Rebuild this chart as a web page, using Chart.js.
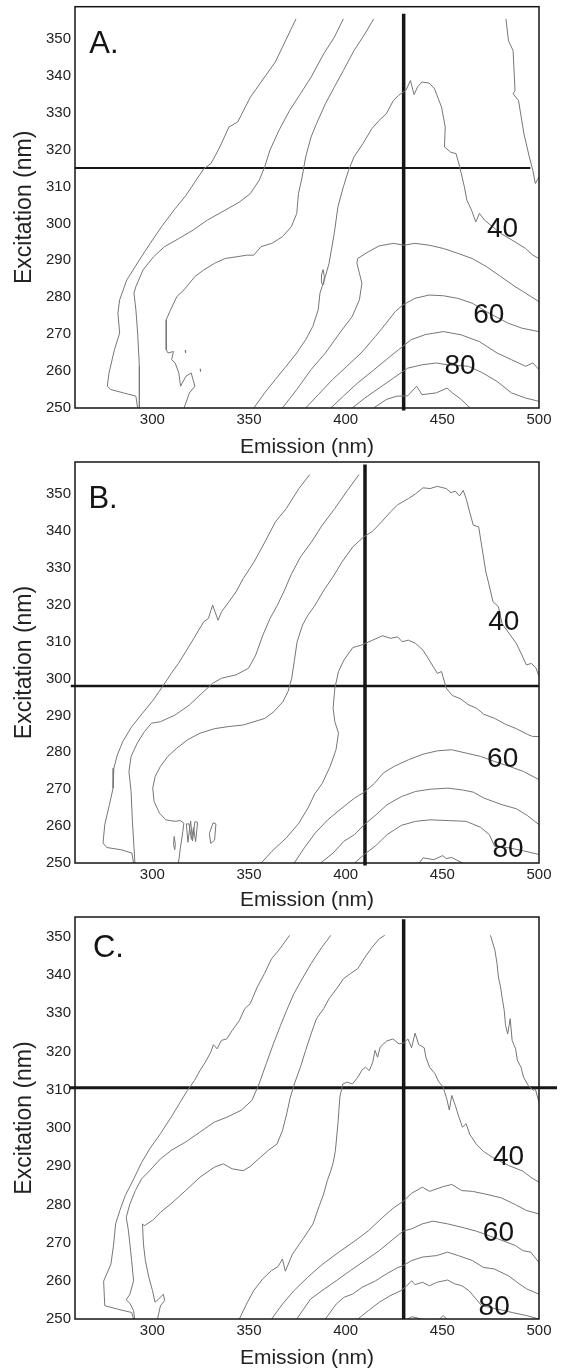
<!DOCTYPE html>
<html>
<head>
<meta charset="utf-8">
<script src="https://cdn.jsdelivr.net/npm/chart.js@4.4.1/dist/chart.umd.min.js"></script>
<style>
  body { margin: 0; background: #fff; }
  .panel { position: absolute; left: 0; width: 561px; }
</style>
</head>
<body>
<div class="panel" style="top:0;height:458px"><canvas id="chartA"></canvas></div>
<div class="panel" style="top:458px;height:454px"><canvas id="chartB"></canvas></div>
<div class="panel" style="top:912px;height:456px"><canvas id="chartC"></canvas></div>
<script>
// Eixos
const xTicks = [300, 350, 400, 450, 500];
const yTicks = [250, 260, 270, 280, 290, 300, 310, 320, 330, 340, 350];
const levelLabels = ['40', '60', '80'];

// Painel A - contornos [emissao, excitacao]
const a10 = [[374.3,355.4],[363.6,343.7],[350.7,334.2],[344.2,327.5],[339.6,326.1],[334.9,320.7],[332.2,318.0],[330.3,316.2],[326.6,314.8],[322.0,311.2],[317.4,307.6],[311.8,304.0],[305.3,299.5],[298.9,294.6],[293.3,290.1],[286.8,284.7],[283.1,279.3],[282.2,275.7],[283.1,270.3],[280.4,265.8],[277.6,259.5],[276.7,255.9],[278.5,255.0],[285.0,254.1],[291.5,253.2],[292.4,250]];
const a20 = [[398.8,355.4],[394.1,350.4],[388.6,345.9],[382.1,339.6],[376.6,335.1],[371.0,330.6],[365.5,325.2],[360.8,319.8],[358.1,315.3],[355.3,311.7],[350.7,308.1],[345.1,305.8],[337.7,303.6],[328.5,300.9],[321.1,298.2],[313.7,295.9],[306.3,293.7],[300.7,291.0],[295.2,287.4],[291.5,282.9],[290.5,281.1],[291.5,276.6],[292.4,270.3],[293.3,261.3],[293.3,250]];
const a30 = [[414.5,355.4],[409.9,351.3],[404.3,346.8],[398.8,341.4],[394.1,336.9],[389.5,332.4],[384.9,327.0],[382.1,323.4],[379.3,318.0],[377.5,312.6],[375.6,308.1],[374.7,302.7],[371.9,299.1],[367.3,296.4],[361.8,294.6],[356.2,293.7],[352.5,291.4],[348.8,291.4],[344.2,291.0],[337.7,290.5],[332.2,289.2],[326.6,287.4],[322.0,285.6],[316.4,282.0],[312.7,280.2],[309.0,276.1],[307.2,273.9],[307.2,265.8],[308.1,264.9],[310.9,265.3],[310.0,263.1],[311.8,262.2],[313.7,259.5],[314.6,255.9],[317.4,258.6],[320.1,259.5],[322.0,255.9],[319.2,254.1],[316.4,250]];
const a30b = [[482.9,355.4],[484.2,349.5],[486.6,346.8],[487.6,336.0],[486.6,335.1],[489.4,333.3],[492.2,324.3],[495.0,318.0],[496.8,314.4],[498.1,310.8],[500,312.6]];
const a40 = [[352.5,250],[358.1,254.1],[363.6,257.7],[369.2,261.3],[374.7,264.9],[379.3,268.5],[383.0,272.1],[385.8,276.6],[386.7,281.1],[389.5,285.6],[391.4,289.2],[394.1,297.3],[396.0,304.5],[398.8,309.9],[401.5,314.4],[404.3,318.0],[408.9,321.6],[413.6,325.7],[417.3,327.9],[421.0,329.7],[424.7,333.3],[427.4,334.7],[431.1,336.0],[433.5,338.7],[435.4,334.9],[437.2,337.0],[439.5,338.3],[443.2,338.0],[445.9,336.5],[449.6,331.5],[451.5,326.1],[451.1,320.7],[454.3,319.3],[457.1,318.9],[459.0,315.3],[461.4,309.9],[462.7,306.3],[465.1,303.6],[467.3,300.4],[469.2,302.7],[471.8,300.9],[480.2,297.3],[487.6,295.0],[493.1,293.2],[496.8,291.4],[500,290.5]];
const a50 = [[367.3,250],[374.7,255.0],[382.1,260.4],[389.5,264.9],[396.9,270.3],[403.4,274.8],[407.1,279.3],[408.4,283.8],[407.1,286.5],[405.8,289.2],[406.2,290.5],[411.7,292.3],[417.3,293.9],[424.7,294.6],[430.2,294.1],[435.8,294.6],[443.2,294.1],[450.6,293.2],[458.0,291.9],[465.4,290.5],[472.8,288.3],[480.2,285.6],[487.6,282.9],[493.1,281.1],[500,278.8]];
const a60 = [[379.3,250],[385.8,253.6],[393.2,257.7],[400.6,261.3],[408.0,264.9],[415.4,269.4],[421.0,273.0],[425.6,276.1],[429.6,277.9],[435.8,279.7],[443.2,280.6],[450.6,280.4],[458.0,279.7],[465.4,278.4],[472.8,276.1],[483.9,273.0],[491.3,271.6],[500,270.7]];
const a70 = [[392.3,250],[398.8,253.2],[406.2,256.8],[413.6,259.9],[421.0,263.1],[427.4,265.8],[433.9,268.5],[441.3,269.9],[450.6,270.7],[459.8,269.8],[469.1,268.0],[478.3,264.9],[485.7,263.1],[493.1,261.3],[496.8,262.2],[500,260.4]];
const a80 = [[403.4,250],[409.9,252.7],[417.3,255.4],[424.7,258.1],[432.1,260.8],[439.5,261.7],[446.9,262.2],[452.4,261.7],[463.5,261.3],[470.9,259.5],[478.3,257.2],[485.7,254.1],[493.1,252.7],[500,251.8]];
const a90 = [[414.5,250],[421.0,252.3],[426.5,253.2],[432.1,253.3],[436.7,255.9],[439.5,253.6],[446.9,254.1],[452.4,255.4],[455.2,254.1],[459.8,252.3],[464.4,250]];
const aLoop = [[388.3,287.5],[389.0,285.6],[388.6,283.4],[387.7,283.8],[387.5,286.0],[388.3,287.5]];
const aDot1 = [[317.0,265.6],[317.2,264.9]];
const aDot2 = [[324.8,260.6],[324.9,259.9]];

// Painel B
const b10 = [[381.4,355.3],[375.8,351.5],[369.3,346.1],[363.7,342.5],[358.2,337.0],[352.6,331.6],[347.0,327.1],[343.3,323.5],[339.6,320.8],[335.8,318.1],[334.0,315.8],[331.2,319.9],[329.0,316.3],[326.6,315.4],[321.9,311.3],[317.3,307.3],[313.5,304.1],[309.8,301.4],[305.2,297.8],[300.5,294.2],[294.9,290.6],[289.4,287.0],[284.7,282.9],[281.9,279.3],[280.1,275.7],[279.7,270.3],[277.8,265.8],[275.4,260.4],[274.5,255.4],[276.4,254.2],[283.8,253.6],[289.4,252.7],[290.3,250]];
const b20 = [[406.9,355.3],[400.9,351.0],[394.4,346.1],[387.9,341.6],[382.3,337.0],[376.7,333.0],[372.1,328.5],[368.4,324.0],[364.7,319.9],[360.9,316.3],[357.2,311.8],[353.5,306.4],[349.8,302.8],[343.3,301.0],[335.8,300.1],[331.2,298.7],[325.6,296.0],[319.1,292.8],[311.7,290.1],[304.2,288.3],[299.6,287.9],[295.9,285.6],[292.2,282.5],[289.0,278.9],[287.9,274.8],[289.0,269.4],[289.7,261.3],[291.0,250]];
const b30 = [[313.5,250],[314.5,254.1],[315.8,258.6],[316.3,260.8],[314.5,261.5],[311.7,261.3],[307.0,261.7],[303.7,263.5],[300.9,266.7],[300.2,270.3],[301.5,273.5],[304.2,276.2],[308.0,278.9],[312.6,281.1],[318.2,283.4],[324.7,285.2],[332.1,286.4],[339.6,287.0],[347.0,287.4],[352.6,288.3],[358.2,289.2],[362.8,291.0],[367.5,293.7],[370.2,296.5],[372.1,300.1],[373.4,304.6],[374.9,310.0],[377.7,314.5],[380.5,317.2],[384.2,319.9],[388.8,324.0],[393.5,327.6],[398.1,331.6],[403.7,335.7],[409.3,338.4],[413.9,339.9],[418.6,342.5],[423.2,345.2],[426.9,347.1],[432.5,348.8],[436.2,350.1],[440.0,351.7],[443.7,351.5],[447.4,352.1],[452.0,351.5],[454.4,350.4],[456.7,350.8],[458.9,349.5],[460.8,351.0],[462.3,348.8],[464.1,345.2],[466.0,341.6],[468.8,341.1],[470.6,335.2],[472.5,328.9],[473.8,326.2],[476.2,320.8],[479.0,319.5],[480.9,314.9],[484.6,312.2],[488.3,309.5],[491.1,306.4],[493.5,303.7],[496.1,304.1],[498.5,302.8],[500,300.5]];
const bLoop1 = [[311.3,257.2],[311.9,255.0],[311.6,253.6],[311.0,255.0],[311.3,257.2]];
const bLoop2 = [[317.6,260.6],[318.4,255.6],[319.8,261.4],[320.8,256.0],[322.0,261.2],[323.4,261.0],[322.4,255.8],[321.3,259.6],[320.2,256.4],[319.0,260.6],[317.6,260.6]];
const bLoop3 = [[330.2,255.3],[329.5,258.0],[331.4,260.9],[332.9,260.6],[332.2,256.2],[330.2,255.3]];
const b40 = [[356.3,250],[361.9,253.2],[369.3,256.8],[375.8,260.8],[380.5,264.9],[384.2,268.9],[387.9,271.6],[392.0,276.2],[395.0,280.7],[396.3,285.2],[394.4,288.3],[393.5,291.9],[394.4,297.4],[396.3,301.9],[399.1,305.0],[403.7,308.4],[408.3,309.1],[413.9,310.4],[419.1,311.6],[423.2,310.9],[426.9,311.3],[429.2,310.0],[432.5,310.4],[436.2,309.5],[440.0,307.7],[443.7,304.6],[447.4,301.4],[449.6,301.9],[452.0,297.4],[455.2,295.4],[459.5,294.5],[463.2,293.0],[467.8,291.9],[471.5,290.3],[477.1,289.2],[482.7,287.6],[488.3,286.4],[493.9,284.9],[496.7,284.3],[500,284.3]];
const b50 = [[373.4,250],[378.6,254.1],[384.2,258.1],[390.7,261.7],[398.1,264.9],[404.6,267.6],[409.6,269.2],[414.9,271.6],[419.5,274.4],[425.1,276.2],[432.5,278.0],[440.0,279.5],[447.4,280.4],[454.8,280.7],[462.3,279.8],[469.7,278.9],[477.1,277.5],[484.6,276.2],[492.0,274.8],[500,272.6]];
const b70 = [[387.0,250],[393.5,252.7],[399.1,255.9],[404.6,257.7],[409.6,260.4],[415.8,263.1],[421.4,265.8],[428.8,268.0],[436.2,269.4],[443.7,270.0],[453.0,270.3],[460.4,269.8],[466.0,269.2],[471.5,267.6],[480.9,265.8],[488.3,264.7],[493.9,262.9],[500,260.4]];
const b80 = [[404.6,250],[409.6,252.3],[415.8,254.8],[421.4,257.7],[428.8,260.2],[436.2,261.3],[443.7,261.7],[453.0,261.5],[462.3,261.3],[469.7,259.7],[474.3,257.7],[477.1,254.5],[484.6,254.1],[492.0,253.3],[500,252.3]];
const b90 = [[438.1,250],[440.0,251.4],[445.6,250.9],[450.2,252.0],[452.0,251.2],[454.8,251.5],[460.4,250]];

// Painel C
const c10 = [[371.0,350.4],[365.4,346.5],[361.7,344.3],[358.0,340.4],[354.3,336.9],[350.6,332.5],[347.8,331.2],[345.0,328.1],[341.3,325.5],[338.5,323.3],[335.7,322.9],[333.5,320.7],[331.6,321.8],[330.2,319.8],[327.4,317.2],[324.6,315.0],[321.8,312.4],[318.1,309.8],[314.4,306.7],[309.7,302.8],[304.2,298.5],[298.6,294.5],[294.5,291.0],[290.8,287.1],[286.0,282.3],[283.2,278.4],[281.0,274.9],[280.0,269.6],[278.6,264.4],[276.0,261.3],[274.8,259.9],[275.4,253.5],[281.9,252.6],[289.3,251.7],[290.3,250]];
const c20 = [[392.3,350.4],[387.7,347.3],[382.1,343.0],[377.5,339.0],[373.2,335.1],[369.5,330.8],[366.3,326.8],[362.6,322.0],[358.9,316.8],[355.2,311.5],[351.5,307.2],[345.9,304.6],[338.5,302.8],[332.0,301.5],[324.6,298.9],[317.2,296.3],[309.7,294.1],[304.2,291.9],[298.6,288.8],[294.5,286.7],[291.2,283.6],[288.4,280.1],[286.5,276.6],[287.5,273.6],[288.4,269.6],[289.3,265.3],[290.3,260.0],[288.4,256.5],[286.5,255.0],[288.4,254.1],[290.3,252.2],[290.8,250]];
const c30 = [[420.2,350.4],[417.4,349.5],[413.7,347.3],[410.0,344.7],[406.3,341.7],[402.5,340.4],[398.8,339.0],[396.0,336.9],[391.4,333.8],[388.6,331.2],[384.9,328.6],[382.1,324.6],[379.3,320.3],[376.6,315.9],[373.8,312.0],[371.4,308.1],[369.5,303.7],[367.3,299.3],[364.5,295.8],[359.9,294.1],[354.3,291.6],[350.6,289.9],[346.9,288.8],[341.3,289.3],[336.7,290.6],[332.0,289.7],[324.6,287.1],[317.2,283.6],[310.7,280.6],[304.2,277.9],[300.1,275.8],[295.8,274.4],[294.9,274.9],[295.4,269.6],[296.4,265.3],[298.2,260.9],[300.1,257.4],[301.4,254.4],[303.2,255.2],[305.7,256.5],[306.4,254.8],[304.2,253.5],[302.7,250]];
const c30b = [[474.9,350.4],[477.2,346.5],[478.3,343.0],[479.0,339.5],[480.1,336.9],[480.9,334.2],[482.0,330.8],[482.7,326.8],[483.8,324.6],[485.1,328.6],[486.1,322.9],[487.9,320.7],[488.8,317.7],[490.7,315.9],[492.0,313.3],[494.4,311.1],[497.2,309.8],[498.1,310.2],[500,306.7]];
const c40 = [[345.0,250],[348.7,253.9],[352.4,257.4],[357.1,260.5],[361.7,262.7],[365.0,263.7],[367.3,265.7],[368.8,262.5],[372.5,267.0],[378.0,271.0],[383.1,274.9],[386.4,279.7],[388.6,282.7],[390.5,286.2],[392.3,288.8],[393.6,291.0],[394.7,294.1],[396.0,301.1],[397.0,308.1],[398.5,311.5],[400.7,312.0],[403.5,311.5],[406.3,313.3],[408.5,315.2],[410.3,315.9],[412.2,315.0],[414.0,317.2],[415.2,320.3],[416.5,318.5],[417.8,321.1],[421.1,322.7],[424.4,323.3],[427.6,322.0],[429.8,322.2],[432.2,323.3],[434.1,321.0],[435.9,324.8],[437.8,321.8],[440.6,321.0],[441.5,318.5],[443.4,315.9],[446.2,314.2],[448.0,312.2],[450.4,310.7],[452.3,307.6],[453.6,304.7],[454.9,308.5],[456.7,305.9],[458.6,302.8],[460.4,300.2],[462.3,301.1],[464.2,298.3],[467.5,295.8],[471.2,293.9],[475.9,292.3],[484.2,290.2],[491.6,288.7],[495.7,287.1],[500,285.8]];
const c50 = [[361.7,250],[367.3,253.9],[373.2,257.4],[380.3,260.9],[387.7,264.2],[397.0,267.7],[404.4,270.3],[411.8,273.1],[418.9,276.5],[424.8,279.1],[429.8,280.8],[434.1,282.9],[439.7,284.5],[443.4,283.4],[450.8,284.7],[454.9,285.2],[460.1,283.6],[465.6,283.4],[473.1,282.6],[480.5,281.7],[487.9,279.9],[493.5,278.4],[500,277.5]];
const c60 = [[374.7,250],[381.8,255.2],[387.7,257.4],[395.1,260.0],[402.5,262.7],[410.0,265.3],[417.4,267.9],[424.8,271.0],[429.8,273.0],[434.1,273.6],[439.7,274.9],[445.2,275.6],[452.7,274.9],[460.1,274.0],[467.5,273.0],[478.6,271.0],[487.9,269.2],[491.6,267.9],[495.7,267.5],[500,264.8]];
const c70 = [[389.5,250],[395.1,253.9],[399.2,255.7],[403.5,256.5],[408.5,258.3],[415.5,260.0],[421.1,261.8],[426.7,263.4],[429.8,264.0],[434.1,265.3],[439.7,266.2],[447.1,266.6],[452.7,267.5],[458.2,266.6],[465.6,265.3],[471.2,263.5],[476.8,263.1],[484.2,261.3],[489.8,259.2],[493.5,257.9],[500,256.5]];
const c80 = [[406.3,250],[411.8,252.2],[417.4,254.4],[423.0,256.1],[428.5,257.4],[431.3,258.5],[434.1,260.0],[435.9,259.0],[439.7,259.6],[443.4,258.7],[447.1,259.6],[452.7,260.2],[456.4,259.2],[460.1,258.7],[463.8,257.4],[467.5,255.2],[470.3,253.5],[478.6,252.6],[486.1,251.7],[493.5,250.9],[500,250]];
const c90a = [[432.2,250],[434.1,250.6],[436.9,250.3],[438.7,250]];
const c90b = [[448.6,250],[450.4,250.9],[452.3,250]];

// Linhas de corte (emissao, excitacao)
const crossA = { em: 430, emSpan: [249.3, 356.8], ex: 315, exSpan: [260, 495.5] };
const crossB = { em: 410, emSpan: [249.3, 358.0], ex: 298, exSpan: [257.8, 500] };
const crossC = { em: 430, emSpan: [250, 354.6], ex: 310.5, exSpan: [257.4, 509.3] };

// Posicoes dos rotulos
const labelPosA = [[481.1, 298.4], [474.0, 275.2], [459.2, 261.4]];
const labelPosB = [[481.8, 315.2], [481.2, 278.2], [484.0, 253.8]];
const labelPosC = [[484.2, 292.3], [479.0, 272.4], [476.8, 253.1]];

const FONT = '"Liberation Sans", Arial, Helvetica, sans-serif';

// Moldura e textos sobre o grafico
const framePlugin = {
    id: 'frame',
    afterDatasetsDraw(chart, args, opts) {
        const { ctx, chartArea: a, scales: { x, y } } = chart;
        ctx.save();
        ctx.strokeStyle = '#151515';
        ctx.lineWidth = 1.5;
        ctx.strokeRect(a.left, a.top, a.right - a.left, a.bottom - a.top);
        ctx.fillStyle = '#151515';
        ctx.textAlign = 'center';
        ctx.textBaseline = 'middle';
        ctx.font = '28px ' + FONT;
        opts.labels.forEach((p, i) => {
            ctx.fillText(levelLabels[i], x.getPixelForValue(p[0]), y.getPixelForValue(p[1]));
        });
        ctx.font = '31px ' + FONT;
        ctx.fillText(opts.letter[0], x.getPixelForValue(opts.letter[1]), y.getPixelForValue(opts.letter[2]));
        ctx.restore();
    }
};

const toPoints = arr => arr.map(([x, y]) => ({ x, y }));

const makePanel = (canvasId, p) => {
    const datasets = p.contours.map(c => ({
        data: toPoints(c),
        showLine: true,
        borderColor: '#767676',
        borderWidth: 1,
        pointRadius: 0,
        tension: 0
    }));
    const cr = p.cross;
    datasets.push({
        data: toPoints([[cr.em, cr.emSpan[0]], [cr.em, cr.emSpan[1]]]),
        showLine: true, borderColor: '#161616', borderWidth: 3.5, pointRadius: 0, clip: false
    });
    datasets.push({
        data: toPoints([[cr.exSpan[0], cr.ex], [cr.exSpan[1], cr.ex]]),
        showLine: true, borderColor: '#161616', borderWidth: p.hWidth, pointRadius: 0, clip: false
    });

    new Chart(document.getElementById(canvasId), {
        type: 'scatter',
        data: { datasets },
        options: {
            responsive: true,
            maintainAspectRatio: false,
            animation: false,
            events: [],
            layout: { padding: { top: p.padTop, right: 22, left: 0, bottom: 0 } },
            plugins: {
                legend: { display: false },
                tooltip: { enabled: false },
                frame: { labels: p.labels, letter: p.letter }
            },
            scales: {
                x: {
                    type: 'linear', min: 260, max: 500,
                    grid: { display: false, drawTicks: false },
                    border: { display: false },
                    afterBuildTicks: s => { s.ticks = xTicks.map(v => ({ value: v })); },
                    afterFit: s => { s.height = p.xAxisH; },
                    ticks: { autoSkip: false, maxRotation: 0, padding: 3, color: '#222', font: { family: FONT, size: 15 } },
                    title: {
                        display: true, text: 'Emission (nm)', color: '#222',
                        font: { family: FONT, size: 21, lineHeight: p.titleLH },
                        padding: { top: 0, bottom: 0 }
                    }
                },
                y: {
                    type: 'linear', min: 250, max: p.yMax,
                    grid: { display: false, drawTicks: false },
                    border: { display: false },
                    afterBuildTicks: s => { s.ticks = yTicks.map(v => ({ value: v })); },
                    afterFit: s => { s.width = 75; s.paddingTop = 0; s.paddingBottom = 0; },
                    ticks: { autoSkip: false, padding: 4, color: '#222', font: { family: FONT, size: 15 } },
                    title: {
                        display: true, text: 'Excitation (nm)', color: '#222',
                        font: { family: FONT, size: 23, lineHeight: '24px' },
                        padding: { top: 13, bottom: 0 }
                    }
                }
            }
        },
        plugins: [framePlugin]
    });
};

makePanel('chartA', {
    contours: [a10, a20, a30, a30b, a40, a50, a60, a70, a80, a90, aLoop, aDot1, aDot2],
    cross: crossA, hWidth: 2, labels: labelPosA, letter: ['A.', 275, 348.6],
    yMax: 358.7, padTop: 6.7, xAxisH: 50, titleLH: '22px'
});
makePanel('chartB', {
    contours: [b10, b20, b30, bLoop1, bLoop2, bLoop3, b40, b50, b70, b80, b90],
    cross: crossB, hWidth: 2.5, labels: labelPosB, letter: ['B.', 274.5, 348.6],
    yMax: 358.7, padTop: 4, xAxisH: 49, titleLH: '24px'
});
makePanel('chartC', {
    contours: [c10, c20, c30, c30b, c40, c50, c60, c70, c80, c90a, c90b],
    cross: crossC, hWidth: 3, labels: labelPosC, letter: ['C.', 277.3, 347],
    yMax: 355.2, padTop: 5, xAxisH: 49, titleLH: '20px'
});
</script>
</body>
</html>
